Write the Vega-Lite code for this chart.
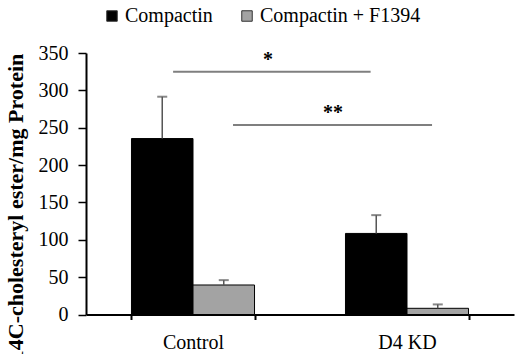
{
  "$schema": "https://vega.github.io/schema/vega-lite/v6.json",
  "autosize": {"type": "none"},
  "padding": {"left": 86, "top": 53, "right": 2, "bottom": 39.5},
  "width": 428,
  "height": 261.5,
  "config": {
    "view": {"stroke": null},
    "font": "Liberation Serif, serif",
    "text": {"font": "Liberation Serif, serif"},
    "axis": {"labelFont": "Liberation Serif, serif", "titleFont": "Liberation Serif, serif"},
    "axisY": {
      "labelOverlap": false, "grid": false, "labelFontSize": 20, "labelColor": "#000",
      "labelFont": "Liberation Serif, serif",
      "tickSize": 8, "tickColor": "#000", "tickWidth": 1.5,
      "domainColor": "#000", "domainWidth": 2, "labelPadding": 10,
      "titleFontSize": 22, "titleFontWeight": "bold", "titleColor": "#000",
      "titleX": -71, "titleY": 154, "titleBaseline": "middle"
    },
    "legend": {"labelFont": "Liberation Serif, serif"}
  },
  "datasets": {
    "bars": [
      {"group": "Control", "treatment": "Compactin", "value": 235.5, "upper": 291.5},
      {"group": "Control", "treatment": "Compactin + F1394", "value": 39.5, "upper": 46},
      {"group": "D4 KD", "treatment": "Compactin", "value": 108.5, "upper": 133},
      {"group": "D4 KD", "treatment": "Compactin + F1394", "value": 8.3, "upper": 13.5}
    ],
    "sig": [
      {"x1": 0.407, "x2": 1.33, "y": 325, "label": "*", "lx": 0.85, "ly": 341},
      {"x1": 0.687, "x2": 1.617, "y": 253.6, "label": "**", "lx": 1.154, "ly": 270}
    ]
  },
  "layer": [
    {
      "data": {"name": "bars"},
      "layer": [
        {
          "mark": {"type": "bar", "stroke": "#000000", "strokeWidth": 1},
          "encoding": {
            "x": {
              "field": "group", "type": "nominal",
              "scale": {"paddingInner": 0.425, "paddingOuter": 0.2125},
              "axis": {
                "title": null, "labelAngle": 0, "labelFontSize": 20, "labelColor": "#000",
                "labelFont": "Liberation Serif, serif", "tickBand": "extent", "tickSize": 5,
                "tickColor": "#000", "tickWidth": 2, "domainColor": "#000", "domainWidth": 2,
                "labelPadding": 13
              }
            },
            "xOffset": {"field": "treatment", "type": "nominal", "sort": ["Compactin", "Compactin + F1394"]},
            "y": {
              "field": "value", "type": "quantitative",
              "scale": {"domain": [0, 350], "nice": false},
              "axis": {"values": [0, 50, 100, 150, 200, 250, 300, 350], "title": "14C-cholesteryl ester/mg Protein", "labelPadding": 10, "tickSize": 8}
            },
            "color": {
              "field": "treatment", "type": "nominal",
              "scale": {"domain": ["Compactin", "Compactin + F1394"], "range": ["#000000", "#a3a3a3"]},
              "legend": {
                "title": null, "orient": "none", "direction": "horizontal",
                "legendX": 16, "legendY": -47,
                "symbolType": "square", "symbolSize": 110,
                "symbolStrokeColor": "#333", "symbolStrokeWidth": 1,
                "labelFont": "Liberation Serif, serif", "labelFontSize": 20, "labelColor": "#000",
                "labelOffset": 3, "columnPadding": 24, "labelLimit": 400
              }
            }
          }
        },
        {
          "mark": {"type": "rule", "color": "#555555", "strokeWidth": 1.5},
          "encoding": {
            "x": {"field": "group", "type": "nominal"},
            "xOffset": {"field": "treatment", "type": "nominal", "sort": ["Compactin", "Compactin + F1394"]},
            "y": {"field": "value", "type": "quantitative",
              "axis": {"values": [0, 50, 100, 150, 200, 250, 300, 350], "title": "14C-cholesteryl ester/mg Protein", "labelPadding": 10, "tickSize": 8}},
            "y2": {"field": "upper"}
          }
        },
        {
          "mark": {"type": "tick", "color": "#555555", "thickness": 2, "size": 10},
          "encoding": {
            "x": {"field": "group", "type": "nominal"},
            "xOffset": {"field": "treatment", "type": "nominal", "sort": ["Compactin", "Compactin + F1394"]},
            "y": {"field": "upper", "type": "quantitative",
              "axis": {"values": [0, 50, 100, 150, 200, 250, 300, 350], "title": "14C-cholesteryl ester/mg Protein", "labelPadding": 10, "tickSize": 8}}
          }
        }
      ]
    },
    {
      "data": {"name": "sig"},
      "layer": [
        {
          "mark": {"type": "rule", "color": "#7f7f7f", "strokeWidth": 2},
          "encoding": {
            "x": {"field": "x1", "type": "quantitative", "scale": {"domain": [0, 2], "nice": false}, "axis": null},
            "x2": {"field": "x2"},
            "y": {"field": "y", "type": "quantitative",
              "axis": {"values": [0, 50, 100, 150, 200, 250, 300, 350], "title": "14C-cholesteryl ester/mg Protein", "labelPadding": 10, "tickSize": 8}}
          }
        },
        {
          "mark": {"type": "text", "fontSize": 20, "font": "Liberation Serif, serif", "color": "#000", "baseline": "middle", "fontWeight": "bold"},
          "encoding": {
            "x": {"field": "lx", "type": "quantitative", "scale": {"domain": [0, 2], "nice": false}, "axis": null},
            "y": {"field": "ly", "type": "quantitative",
              "axis": {"values": [0, 50, 100, 150, 200, 250, 300, 350], "title": "14C-cholesteryl ester/mg Protein", "labelPadding": 10, "tickSize": 8}},
            "text": {"field": "label"}
          }
        }
      ]
    }
  ],
  "resolve": {"scale": {"x": "independent"}}
}
